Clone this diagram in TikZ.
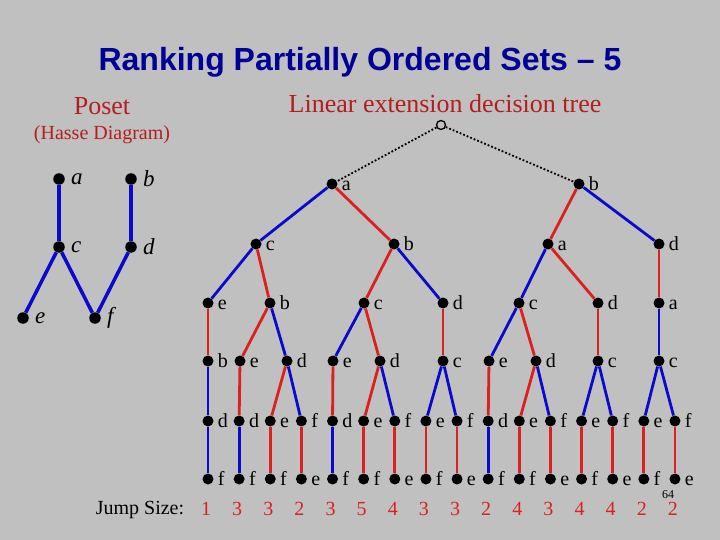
\documentclass[tikz,border=0pt]{standalone}
\usepackage{fontspec}
\setmainfont{Liberation Serif}
\newfontfamily\titlefont{Liberation Sans}
\definecolor{slidegray}{HTML}{C0C0C0}
\definecolor{titleblue}{HTML}{000096}
\definecolor{headred}{HTML}{B41E1E}
\definecolor{edgered}{HTML}{DC2020}
\definecolor{edgeblue}{HTML}{0A0ACC}

\begin{document}
\begin{tikzpicture}[
    x=1pt, y=-1pt,
    dot/.style={circle, fill=black, inner sep=0pt, minimum size=11pt},
    hdot/.style={dot, minimum size=11.5pt},
    rootdot/.style={circle, draw=black, fill=slidegray, line width=1.3pt,
      inner sep=0pt, minimum size=9pt},
    lbl/.style={font=\fontsize{20}{20}\selectfont, inner sep=1pt,
      text height=13pt, text depth=0pt},
    hlbl/.style={font=\fontsize{23}{23}\selectfont\itshape, inner sep=1pt,
      label distance=5pt},
    edge/.style={line width=2.8pt},
    hedge/.style={edgeblue, line width=3.5pt},
    rootedge/.style={black, dotted, line width=1.8pt},
    jump/.style={text=edgered, font=\fontsize{20}{20}\selectfont},
    label distance=3pt,
  ]

  % Background
  \useasboundingbox (0,0) rectangle (720,540);
  \fill[slidegray] (0,0) rectangle (720,540);

  % === Headings ===
  \node[font=\titlefont\bfseries\fontsize{32}{32}\selectfont, text=titleblue]
    (title) at (360,62) {Ranking Partially Ordered Sets – 5};
  \node[font=\fontsize{26}{26}\selectfont, text=headred] (poset) at (102,106) {Poset};
  \node[font=\fontsize{20}{20}\selectfont, text=headred] (hasse) at (102,135) {(Hasse Diagram)};
  \node[font=\fontsize{26}{26}\selectfont, text=headred] (ledt) at (445,104)
    {Linear extension decision tree};

  % === Hasse diagram ===
  \node[hdot, label={[hlbl]right:a}] (ha) at (59,179) {};
  \node[hdot, label={[hlbl]right:b}] (hb) at (131,179) {};
  \node[hdot, label={[hlbl]right:c}] (hc) at (59,247) {};
  \node[hdot, label={[hlbl]right:d}] (hd) at (131,247) {};
  \node[hdot, label={[hlbl]right:e}] (he) at (23,318) {};
  \node[hdot, label={[hlbl]right:f}] (hf) at (95,318) {};
  \draw[hedge] (ha) -- (hc);
  \draw[hedge] (hb) -- (hd);
  \draw[hedge] (hc) -- (he);
  \draw[hedge] (hc) -- (hf);
  \draw[hedge] (hd) -- (hf);

  % === Decision tree ===
  \node[rootdot] (r) at (441,125) {};

  % level 1
  \node[dot, label={[lbl]right:a}] (a1) at (332,184) {};
  \node[dot, label={[lbl]right:b}] (b1) at (579,184) {};
  \draw[rootedge] (r) -- (a1);
  \draw[rootedge] (r) -- (b1);

  % level 2
  \node[dot, label={[lbl]right:c}] (c2) at (256,244) {};
  \node[dot, label={[lbl]right:b}] (b2) at (394,244) {};
  \node[dot, label={[lbl]right:a}] (a2) at (548,244) {};
  \node[dot, label={[lbl]right:d}] (d2) at (659,244) {};
  \draw[edge, edgeblue] (a1) -- (c2);
  \draw[edge, edgered] (a1) -- (b2);
  \draw[edge, edgered] (b1) -- (a2);
  \draw[edge, edgeblue] (b1) -- (d2);

  % level 3
  \node[dot, label={[lbl]right:e}] (e3) at (208,303) {};
  \node[dot, label={[lbl]right:b}] (b3) at (270,303) {};
  \node[dot, label={[lbl]right:c}] (c3) at (364,303) {};
  \node[dot, label={[lbl]right:d}] (d3) at (443,303) {};
  \node[dot, label={[lbl]right:c}] (c3b) at (519,303) {};
  \node[dot, label={[lbl]right:d}] (d3b) at (598,303) {};
  \node[dot, label={[lbl]right:a}] (a3) at (659,303) {};
  \draw[edge, edgeblue] (c2) -- (e3);
  \draw[edge, edgered] (c2) -- (b3);
  \draw[edge, edgered] (b2) -- (c3);
  \draw[edge, edgeblue] (b2) -- (d3);
  \draw[edge, edgeblue] (a2) -- (c3b);
  \draw[edge, edgered] (a2) -- (d3b);
  \draw[edge, edgered] (d2) -- (a3);

  % level 4
  \node[dot, label={[lbl]right:b}] (b4) at (208,361) {};
  \node[dot, label={[lbl]right:e}] (e4) at (240,361) {};
  \node[dot, label={[lbl]right:d}] (d4) at (287,361) {};
  \node[dot, label={[lbl]right:e}] (e4b) at (333,361) {};
  \node[dot, label={[lbl]right:d}] (d4b) at (380,361) {};
  \node[dot, label={[lbl]right:c}] (c4) at (443,361) {};
  \node[dot, label={[lbl]right:e}] (e4c) at (489,361) {};
  \node[dot, label={[lbl]right:d}] (d4c) at (536,361) {};
  \node[dot, label={[lbl]right:c}] (c4b) at (598,361) {};
  \node[dot, label={[lbl]right:c}] (c4c) at (659,361) {};
  \draw[edge, edgered] (e3) -- (b4);
  \draw[edge, edgered] (b3) -- (e4);
  \draw[edge, edgeblue] (b3) -- (d4);
  \draw[edge, edgeblue] (c3) -- (e4b);
  \draw[edge, edgered] (c3) -- (d4b);
  \draw[edge, edgered] (d3) -- (c4);
  \draw[edge, edgeblue] (c3b) -- (e4c);
  \draw[edge, edgered] (c3b) -- (d4c);
  \draw[edge, edgered] (d3b) -- (c4b);
  \draw[edge, edgeblue] (a3) -- (c4c);

  % levels 5 and 6, with jump sizes
  \foreach \i/\p/\la/\ca/\lb/\cb/\j in {
      0/b4/d/blue/f/blue/1, 1/e4/d/red/f/blue/3, 2/d4/e/red/f/red/3,
      3/d4/f/blue/e/red/2, 4/e4b/d/red/f/blue/3, 5/d4b/e/red/f/red/5,
      6/d4b/f/blue/e/red/4, 7/c4/e/blue/f/red/3, 8/c4/f/blue/e/red/3,
      9/e4c/d/red/f/blue/2, 10/d4c/e/red/f/red/4, 11/d4c/f/blue/e/red/3,
      12/c4b/e/blue/f/red/4, 13/c4b/f/blue/e/red/4, 14/c4c/e/blue/f/red/2,
      15/c4c/f/blue/e/red/2} {
    \node[dot, label={[lbl]right:\la}] (p\i) at ({208+\i*31.13},421) {};
    \node[dot, label={[lbl]right:\lb}] (q\i) at ({208+\i*31.13},479) {};
    \draw[edge, color=edge\ca] (\p) -- (p\i);
    \draw[edge, color=edge\cb] (p\i) -- (q\i);
    \node[jump] (j\i) at ({206+\i*31.13},509) {\j};
  }

  \node[font=\fontsize{20}{20}\selectfont] (jumpsize) at (140,510) {Jump Size:};
  \node[font=\fontsize{12}{12}\selectfont, inner sep=0pt] (pageno) at (668,495) {64};

\end{tikzpicture}
\end{document}
